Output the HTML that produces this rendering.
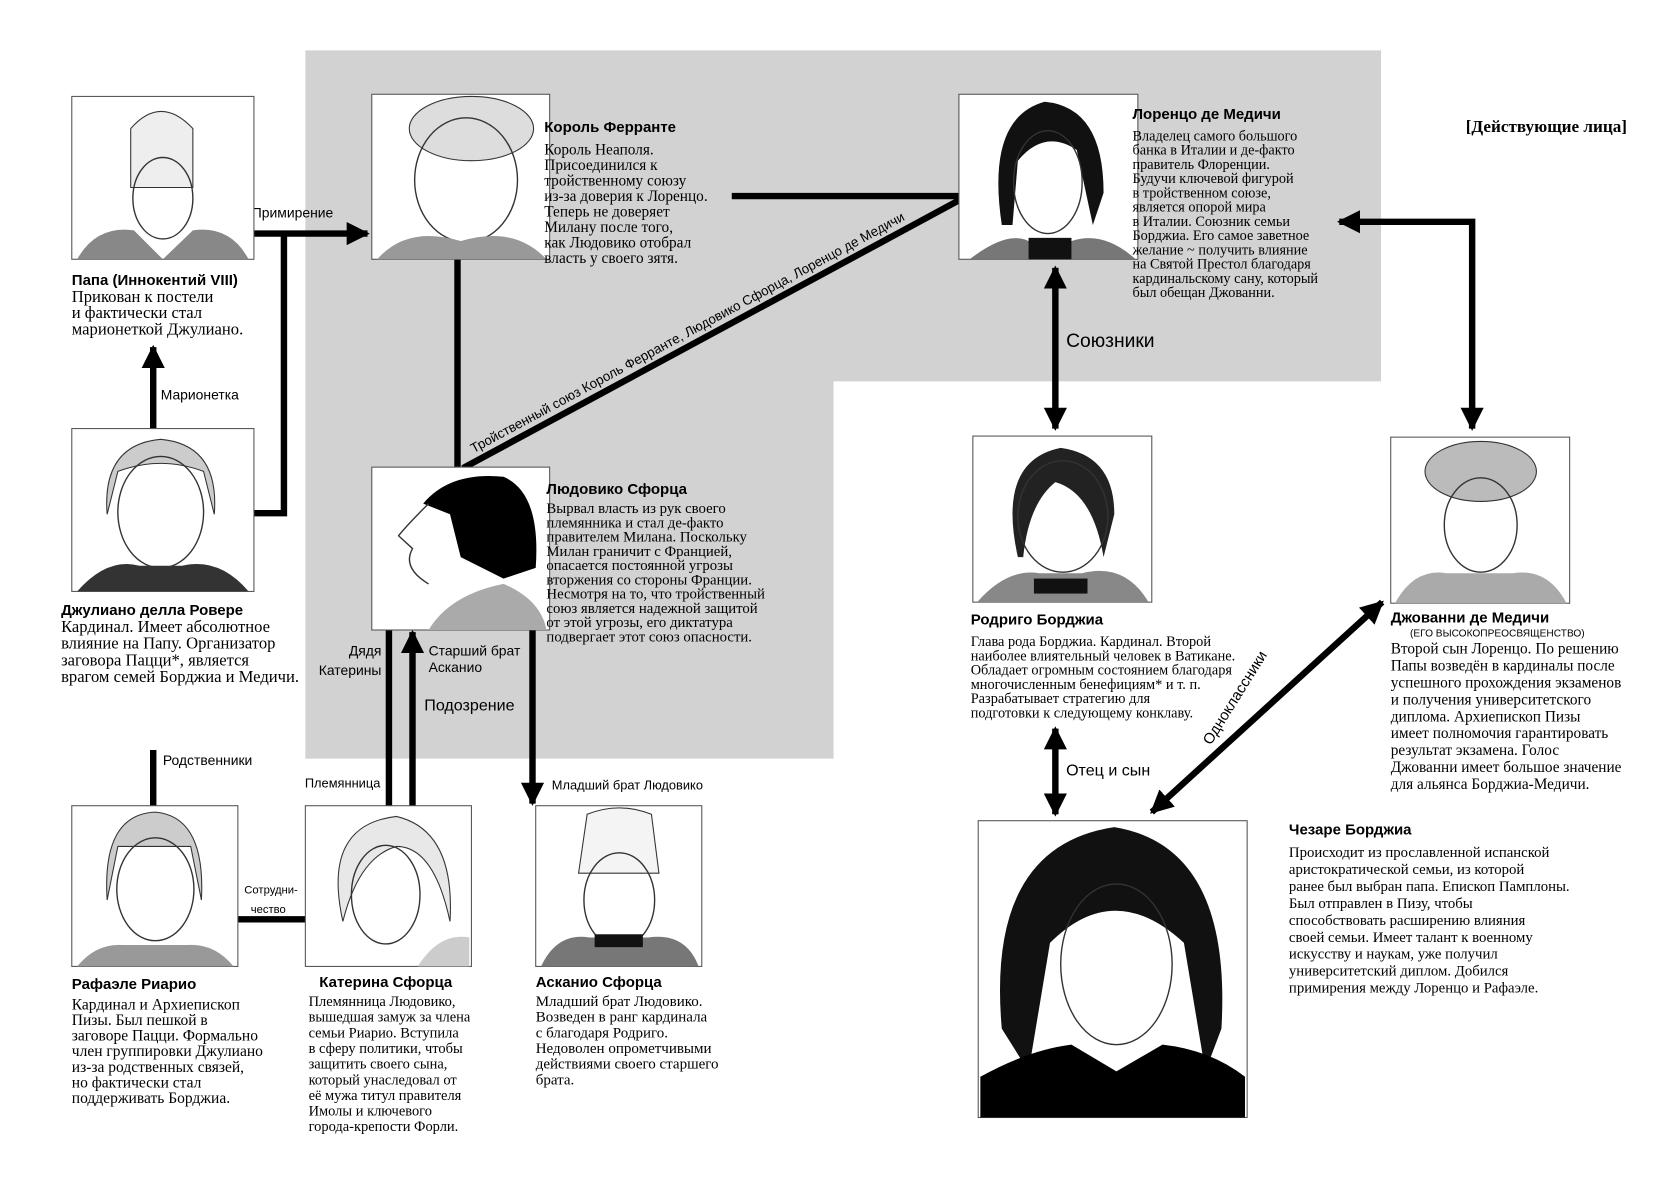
<!DOCTYPE html>
<html><head><meta charset="utf-8"><style>
html,body{margin:0;padding:0;background:#fff;}
svg{display:block}
.n{font-family:"Liberation Sans","DejaVu Sans",sans-serif;font-weight:bold;font-size:14px;fill:#000}
.d{font-family:"Liberation Serif","DejaVu Serif",serif;fill:#000}
.l{font-family:"Liberation Sans","DejaVu Sans",sans-serif;fill:#000}
.L{font-family:"Liberation Sans","DejaVu Sans",sans-serif;font-size:18px;fill:#000}
.p{fill:#fff;stroke:#555;stroke-width:1}
.k{stroke:#000;stroke-width:6;fill:none}
.f{fill:none;stroke:#333;stroke-width:1.3}
</style></head><body>
<svg width="1680" height="1200" viewBox="0 0 1568 1120" xmlns="http://www.w3.org/2000/svg">
<defs>
<marker id="a" viewBox="0 0 10 10" refX="9" refY="5" markerWidth="3.6" markerHeight="3.6" orient="auto-start-reverse"><path d="M0,0L10,5L0,10z" fill="#000"/></marker>
</defs>
<path d="M285,47H1289V356H778V708H285Z" fill="#d2d2d2"/>

<line class="k" x1="237" y1="218" x2="343" y2="218" marker-end="url(#a)"/>
<polyline class="k" points="265,218 265,479 230,479"/>
<line class="k" x1="143" y1="400" x2="143" y2="324" marker-end="url(#a)"/>
<line class="k" x1="427" y1="242" x2="427" y2="436"/>
<line class="k" x1="683" y1="183" x2="895" y2="183"/>
<line class="k" x1="432" y1="437" x2="895" y2="187"/>
<line class="k" x1="985" y1="250" x2="985" y2="400" marker-start="url(#a)" marker-end="url(#a)"/>
<polyline class="k" points="1250,207 1374,207 1374,400" marker-start="url(#a)" marker-end="url(#a)"/>
<line class="k" x1="143" y1="700" x2="143" y2="752"/>
<line class="k" x1="222" y1="858" x2="285" y2="858"/>
<line class="k" x1="363" y1="588" x2="363" y2="752"/>
<line class="k" x1="385" y1="752" x2="385" y2="590" marker-end="url(#a)"/>
<line class="k" x1="497" y1="588" x2="497" y2="750" marker-end="url(#a)"/>
<line class="k" x1="985" y1="680" x2="985" y2="760" marker-start="url(#a)" marker-end="url(#a)"/>
<line class="k" x1="1290" y1="562" x2="1075" y2="758" marker-start="url(#a)" marker-end="url(#a)"/>

<text class="l" x="235" y="203" style="font-size:13px">Примирение</text>
<text class="l" x="150" y="373" style="font-size:13px">Марионетка</text>
<text class="l" transform="translate(442,423) rotate(-28.4)" style="font-size:12.5px">Тройственный союз Король Ферранте, Людовико Сфорца, Лоренцо де Медичи</text>
<text class="L" x="995" y="324">Союзники</text>
<text class="l" x="152" y="714" style="font-size:13px">Родственники</text>
<text class="l" x="228" y="834" style="font-size:10.5px">Сотрудни-</text>
<text class="l" x="234" y="852" style="font-size:10.5px">чество</text>
<text class="l" x="356" y="612" text-anchor="end" style="font-size:13px">Дядя</text>
<text class="l" x="356" y="630" text-anchor="end" style="font-size:13px">Катерины</text>
<text class="l" x="400" y="612" style="font-size:13px">Старший брат</text>
<text class="l" x="400" y="627" style="font-size:13px">Асканио</text>
<text class="l" x="396" y="663" style="font-size:15px">Подозрение</text>
<text class="l" x="355" y="735" text-anchor="end" style="font-size:12px">Племянница</text>
<text class="l" x="515" y="737" style="font-size:12px">Младший брат Людовико</text>
<text class="l" x="995" y="724" style="font-size:15px">Отец и сын</text>
<text class="l" transform="translate(1130,696) rotate(-58)" style="font-size:14px">Одноклассники</text>

<text x="1368" y="123" font-family="Liberation Serif,serif" font-weight="bold" font-size="16">[Действующие лица]</text>

<g>
<rect class="p" x="67" y="90" width="170" height="152"/>
<path d="M122,120 Q150,88 180,120 L180,175 L122,175Z" fill="#eee" stroke="#333"/>
<ellipse class="f" cx="152" cy="185" rx="28" ry="38"/>
<path d="M72,242 Q90,210 125,215 L152,242Z M232,242 Q215,210 180,215 L152,242Z" fill="#888"/>
</g>
<g>
<rect class="p" x="347" y="88" width="166" height="154"/>
<ellipse cx="440" cy="120" rx="58" ry="30" fill="#ddd" stroke="#333"/>
<ellipse class="f" cx="435" cy="168" rx="48" ry="58"/>
<path d="M352,242 Q380,210 430,225 Q480,210 510,242Z" fill="#999"/>
</g>
<g>
<rect class="p" x="895" y="88" width="167" height="154"/>
<path d="M935,210 Q920,110 975,95 Q1030,100 1030,180 L1020,210 L1005,140 Q975,120 950,150 L945,210Z" fill="#111"/>
<ellipse class="f" cx="978" cy="170" rx="32" ry="48"/>
<path d="M905,242 Q940,215 960,225 L1000,225 Q1030,215 1060,242Z" fill="#777"/>
<rect x="960" y="222" width="40" height="20" fill="#111"/>
</g>
<g>
<rect class="p" x="67" y="400" width="170" height="152"/>
<path d="M100,480 Q95,415 150,410 Q205,415 200,480 L190,440 Q150,425 110,440Z" fill="#ccc" stroke="#333"/>
<ellipse class="f" cx="150" cy="478" rx="40" ry="52"/>
<path d="M72,552 Q100,520 130,528 L170,528 Q205,520 232,552Z" fill="#333"/>
</g>
<g>
<rect class="p" x="347" y="436" width="166" height="152"/>
<path d="M395,470 Q420,440 470,445 Q505,460 500,530 L470,540 L430,520 L420,480Z" fill="#000"/>
<path class="f" d="M400,470 Q380,490 372,500 L385,512 Q375,530 400,545"/>
<path d="M400,588 Q420,555 470,545 Q505,560 510,588Z" fill="#aaa"/>
</g>
<g>
<rect class="p" x="908" y="407" width="167" height="155"/>
<path d="M950,520 Q930,430 990,418 Q1040,425 1040,480 L1030,520 Q1020,460 985,450 Q960,470 955,520Z" fill="#222"/>
<ellipse class="f" cx="992" cy="482" rx="42" ry="52"/>
<path d="M912,562 Q940,530 970,535 L1010,535 Q1050,525 1072,562Z" fill="#888"/>
<rect x="965" y="540" width="50" height="14" fill="#111"/>
</g>
<g>
<rect class="p" x="1298" y="408" width="167" height="155"/>
<ellipse cx="1382" cy="440" rx="52" ry="28" fill="#bbb" stroke="#333"/>
<ellipse class="f" cx="1382" cy="490" rx="34" ry="44"/>
<path d="M1302,563 Q1320,530 1350,535 L1412,535 Q1445,530 1462,563Z" fill="#aaa"/>
</g>
<g>
<rect class="p" x="67" y="752" width="155" height="150"/>
<path d="M100,840 Q95,760 145,758 Q192,762 188,840 L178,790 L110,790Z" fill="#ccc" stroke="#333"/>
<ellipse class="f" cx="145" cy="830" rx="36" ry="48"/>
<path d="M72,902 Q90,880 115,882 L175,882 Q200,880 218,902Z" fill="#999"/>
</g>
<g>
<rect class="p" x="285" y="752" width="155" height="150"/>
<path d="M320,860 Q300,770 370,762 Q425,775 420,860 Q405,790 370,790 Q335,800 320,860Z" fill="#e8e8e8" stroke="#333"/>
<ellipse class="f" cx="360" cy="835" rx="32" ry="46"/>
<path d="M390,902 Q410,870 438,875 L438,902Z" fill="#ccc"/>
</g>
<g>
<rect class="p" x="500" y="752" width="155" height="150"/>
<path d="M540,815 L548,760 Q578,748 608,760 L615,815Z" fill="#f4f4f4" stroke="#333"/>
<ellipse class="f" cx="578" cy="840" rx="33" ry="44"/>
<path d="M505,902 Q520,870 550,875 L605,875 Q640,870 652,902Z" fill="#777"/>
<rect x="555" y="872" width="45" height="12" fill="#111"/>
</g>
<g>
<rect class="p" x="913" y="766" width="251" height="277"/>
<path d="M935,960 Q920,790 1040,772 Q1150,790 1140,960 L1125,1000 L1105,880 Q1040,820 980,880 L960,1000Z" fill="#111"/>
<ellipse class="f" cx="1042" cy="900" rx="52" ry="75"/>
<path d="M915,1043 L915,1005 Q960,980 1000,975 L1042,1000 L1085,975 Q1130,980 1162,1005 L1162,1043Z" fill="#000"/>
</g>

<text class="n" x="67" y="266">Папа (Иннокентий VIII)</text>
<text class="d" y="282" style="font-size:15.5px"><tspan x="67">Прикован к постели</tspan><tspan x="67" dy="15">и фактически стал</tspan><tspan x="67" dy="15">марионеткой Джулиано.</tspan></text>

<text class="n" x="508" y="123">Король Ферранте</text>
<text class="d" y="144" style="font-size:14.3px"><tspan x="508">Король Неаполя.</tspan><tspan x="508" dy="14.5">Присоединился к</tspan><tspan x="508" dy="14.5">тройственному союзу</tspan><tspan x="508" dy="14.5">из-за доверия к Лоренцо.</tspan><tspan x="508" dy="14.5">Теперь не доверяет</tspan><tspan x="508" dy="14.5">Милану после того,</tspan><tspan x="508" dy="14.5">как Людовико отобрал</tspan><tspan x="508" dy="14.5">власть у своего зятя.</tspan></text>

<text class="n" x="1057" y="111">Лоренцо де Медичи</text>
<text class="d" y="131" style="font-size:13.3px"><tspan x="1057">Владелец самого большого</tspan><tspan x="1057" dy="13.3">банка в Италии и де-факто</tspan><tspan x="1057" dy="13.3">правитель Флоренции.</tspan><tspan x="1057" dy="13.3">Будучи ключевой фигурой</tspan><tspan x="1057" dy="13.3">в тройственном союзе,</tspan><tspan x="1057" dy="13.3">является опорой мира</tspan><tspan x="1057" dy="13.3">в Италии. Союзник  семьи</tspan><tspan x="1057" dy="13.3">Борджиа. Его самое заветное</tspan><tspan x="1057" dy="13.3">желание ~ получить влияние</tspan><tspan x="1057" dy="13.3">на Святой Престол благодаря</tspan><tspan x="1057" dy="13.3">кардинальскому сану, который</tspan><tspan x="1057" dy="13.3">был обещан Джованни.</tspan></text>

<text class="n" x="57" y="574">Джулиано делла Ровере</text>
<text class="d" y="590" style="font-size:15.5px"><tspan x="57">Кардинал. Имеет абсолютное</tspan><tspan x="57" dy="15.5">влияние на Папу. Организатор</tspan><tspan x="57" dy="15.5">заговора Пацци*, является</tspan><tspan x="57" dy="15.5">врагом семей Борджиа и Медичи.</tspan></text>

<text class="n" x="510" y="461">Людовико Сфорца</text>
<text class="d" y="479" style="font-size:13.8px"><tspan x="510">Вырвал власть из рук своего</tspan><tspan x="510" dy="13.3">племянника и стал де-факто</tspan><tspan x="510" dy="13.3">правителем Милана. Поскольку</tspan><tspan x="510" dy="13.3">Милан граничит с Францией,</tspan><tspan x="510" dy="13.3">опасается постоянной угрозы</tspan><tspan x="510" dy="13.3">вторжения со стороны Франции.</tspan><tspan x="510" dy="13.3">Несмотря на то, что тройственный</tspan><tspan x="510" dy="13.3">союз является надежной защитой</tspan><tspan x="510" dy="13.3">от этой угрозы, его диктатура</tspan><tspan x="510" dy="13.3">подвергает этот союз опасности.</tspan></text>

<text class="n" x="906" y="583">Родриго Борджиа</text>
<text class="d" y="603" style="font-size:13.4px"><tspan x="906">Глава рода Борджиа. Кардинал. Второй</tspan><tspan x="906" dy="13.3">наиболее влиятельный человек в Ватикане.</tspan><tspan x="906" dy="13.3">Обладает огромным состоянием благодаря</tspan><tspan x="906" dy="13.3">многочисленным бенефициям* и т. п.</tspan><tspan x="906" dy="13.3">Разрабатывает стратегию для</tspan><tspan x="906" dy="13.3">подготовки к следующему конклаву.</tspan></text>

<text class="n" x="1298" y="581">Джованни де Медичи</text>
<text class="l" x="1316" y="594" style="font-size:9.5px">(ЕГО ВЫСОКОПРЕОСВЯЩЕНСТВО)</text>
<text class="d" y="610" style="font-size:14.3px"><tspan x="1298">Второй сын Лоренцо. По решению</tspan><tspan x="1298" dy="15.8">Папы возведён в кардиналы после</tspan><tspan x="1298" dy="15.8">успешного прохождения экзаменов</tspan><tspan x="1298" dy="15.8">и получения университетского</tspan><tspan x="1298" dy="15.8">диплома. Архиепископ Пизы</tspan><tspan x="1298" dy="15.8">имеет полномочия гарантировать</tspan><tspan x="1298" dy="15.8">результат экзамена. Голос</tspan><tspan x="1298" dy="15.8">Джованни имеет большое значение</tspan><tspan x="1298" dy="15.8">для альянса Борджиа-Медичи.</tspan></text>

<text class="n" x="67" y="923">Рафаэле Риарио</text>
<text class="d" y="942" style="font-size:14.5px"><tspan x="67">Кардинал и Архиепископ</tspan><tspan x="67" dy="14.6">Пизы. Был пешкой в</tspan><tspan x="67" dy="14.6">заговоре Пацци. Формально</tspan><tspan x="67" dy="14.6">член группировки Джулиано</tspan><tspan x="67" dy="14.6">из-за родственных связей,</tspan><tspan x="67" dy="14.6">но фактически стал</tspan><tspan x="67" dy="14.6">поддерживать Борджиа.</tspan></text>

<text class="n" x="298" y="921">Катерина Сфорца</text>
<text class="d" y="939" style="font-size:13.5px"><tspan x="288">Племянница Людовико,</tspan><tspan x="288" dy="14.6">вышедшая замуж за члена</tspan><tspan x="288" dy="14.6">семьи Риарио.  Вступила</tspan><tspan x="288" dy="14.6">в сферу политики, чтобы</tspan><tspan x="288" dy="14.6">защитить своего сына,</tspan><tspan x="288" dy="14.6">который унаследовал от</tspan><tspan x="288" dy="14.6">её мужа титул правителя</tspan><tspan x="288" dy="14.6">Имолы и ключевого</tspan><tspan x="288" dy="14.6">города-крепости Форли.</tspan></text>

<text class="n" x="500" y="921">Асканио Сфорца</text>
<text class="d" y="939" style="font-size:14px"><tspan x="500">Младший брат Людовико.</tspan><tspan x="500" dy="14.6">Возведен в ранг кардинала</tspan><tspan x="500" dy="14.6">с благодаря Родриго.</tspan><tspan x="500" dy="14.6">Недоволен опрометчивыми</tspan><tspan x="500" dy="14.6">действиями своего старшего</tspan><tspan x="500" dy="14.6">брата.</tspan></text>

<text class="n" x="1203" y="779">Чезаре Борджиа</text>
<text class="d" y="800" style="font-size:13.8px"><tspan x="1203">Происходит из  прославленной испанской</tspan><tspan x="1203" dy="15.8">аристократической семьи, из которой</tspan><tspan x="1203" dy="15.8">ранее был выбран папа. Епископ Памплоны.</tspan><tspan x="1203" dy="15.8">Был отправлен в Пизу, чтобы</tspan><tspan x="1203" dy="15.8">способствовать расширению влияния</tspan><tspan x="1203" dy="15.8">своей семьи. Имеет талант к военному</tspan><tspan x="1203" dy="15.8">искусству и наукам, уже получил</tspan><tspan x="1203" dy="15.8">университетский диплом. Добился</tspan><tspan x="1203" dy="15.8">примирения между Лоренцо и Рафаэле.</tspan></text>
</svg>
</body></html>
